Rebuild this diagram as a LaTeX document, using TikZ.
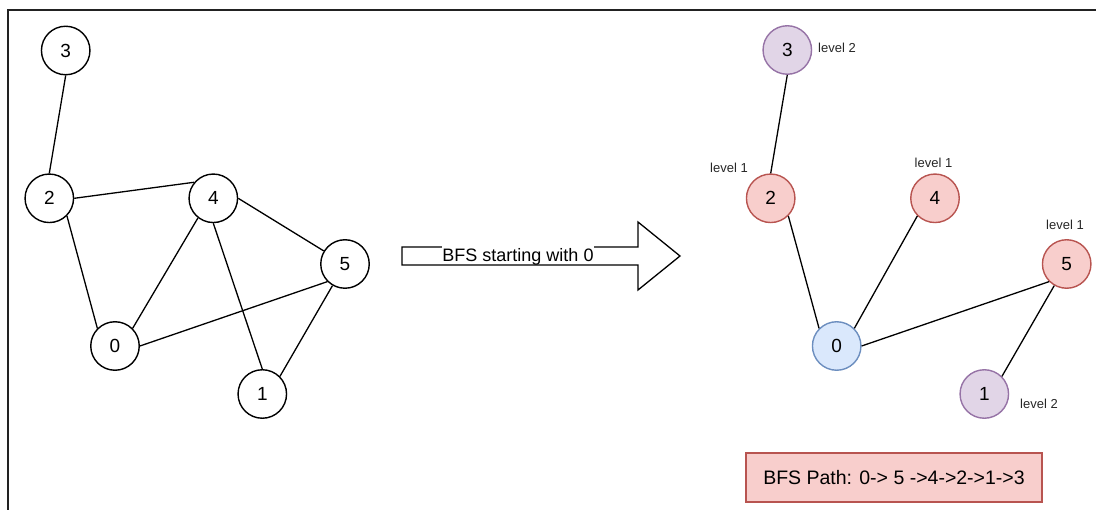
\documentclass[tikz,border=0pt]{standalone}
\usepackage{fontspec}
\setmainfont{Liberation Sans}
\definecolor{pfill}{HTML}{E1D5E7}
\definecolor{pdraw}{HTML}{9673A6}
\definecolor{rfill}{HTML}{F8CECC}
\definecolor{rdraw}{HTML}{B85450}
\definecolor{bfill}{HTML}{DAE8FC}
\definecolor{bdraw}{HTML}{6C8EBF}
\definecolor{framec}{HTML}{222222}
\begin{document}
\begin{tikzpicture}[x=1pt,y=-1pt,
  vtx/.style={circle,draw=black,fill=white,line width=1.4pt,minimum size=48.5pt,inner sep=0pt,font=\fontsize{19}{19}\selectfont},
  purplev/.style={vtx,draw=pdraw,fill=pfill},
  redv/.style={vtx,draw=rdraw,fill=rfill},
  bluev/.style={vtx,draw=bdraw,fill=bfill},
  edge/.style={draw=black,line width=1.3pt},
  lvl/.style={inner sep=0pt,font=\fontsize{13}{13}\selectfont,text=black!85},
  pathbox/.style={draw=rdraw,fill=rfill,line width=1.4pt,minimum width=296pt,minimum height=49pt,inner sep=0pt,font=\fontsize{19.5}{19.5}\selectfont}
]
\useasboundingbox (0,0) rectangle (1096,510);
% frame
\coordinate (fb) at (8,510);
\coordinate (fc) at (8,10);
\coordinate (fr) at (1096,10);
\draw[line width=1.5pt,framec] (fb) -- (fc) -- (fr);

% left graph
\node[vtx] (L3) at (65.7,50.5) {3};
\node[vtx] (L2) at (49.3,198.3) {2};
\node[vtx] (L4) at (213.3,198.3) {4};
\node[vtx] (L5) at (345,264) {5};
\node[vtx] (L0) at (115,346) {0};
\node[vtx] (L1) at (262.3,394) {1};
\draw[edge] (L3.south) -- (L2.north);
\draw[edge] (L2.east) -- (L4.140);
\draw[edge] (L2.south east) -- (L0.north west);
\draw[edge] (L4.-128) -- (L0.north east);
\draw[edge] (L4.east) -- (L5);
\draw[edge] (L4.south) -- (L1.north);
\draw[edge] (L5.south west) -- (L0.east);
\draw[edge] (L1.north east) -- (L5);

% block arrow
\draw[line width=1.3pt,fill=white] (402,247) -- (638,247) -- (638,222) -- (680,256) -- (638,290) -- (638,265) -- (402,265) -- cycle;
\node[fill=white,inner sep=0pt,text height=16pt,text depth=1pt,anchor=base,font=\fontsize{18}{18}\selectfont] (arrowtxt) at (518,262) {BFS starting with 0};

% right graph
\node[purplev] (R3) at (787.3,50) {3};
\node[redv] (R2) at (770.7,198.3) {2};
\node[redv] (R4) at (935,198.3) {4};
\node[redv] (R5) at (1066.7,264) {5};
\node[bluev] (R0) at (836.7,346) {0};
\node[purplev] (R1) at (984.3,394) {1};
\draw[edge] (R3.south) -- (R2.north);
\draw[edge] (R2.south east) -- (R0.north west);
\draw[edge] (R4.south west) -- (R0.north east);
\draw[edge] (R5.south west) -- (R0.east);
\draw[edge] (R1.north east) -- (R5);

\node[lvl] (lv3) at (837,47.5) {level 2};
\node[lvl] (lv2) at (729,167.5) {level 1};
\node[lvl] (lv4) at (933.5,163) {level 1};
\node[lvl] (lv5) at (1065,225) {level 1};
\node[lvl] (lv1) at (1039,404) {level 2};

\node[pathbox] (path) at (894,477.5) {BFS Path: 0-> 5 ->4->2->1->3};
\end{tikzpicture}
\end{document}
